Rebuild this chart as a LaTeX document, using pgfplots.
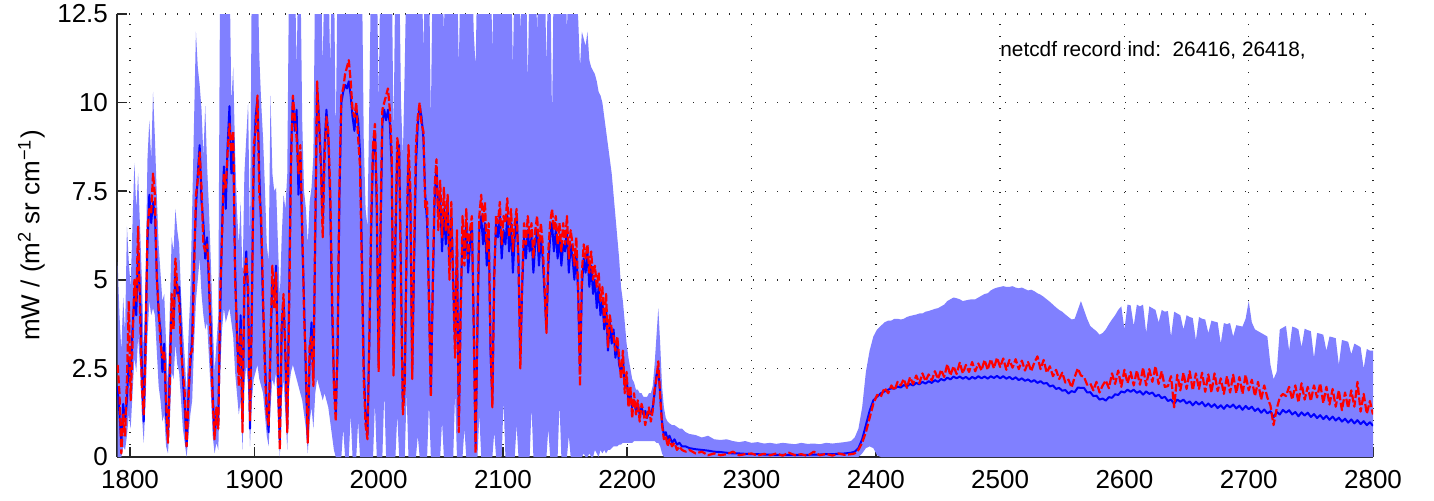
\documentclass[border=0pt]{standalone}
\usepackage{fontspec}
\setmainfont{Liberation Sans}
\usepackage{pgfplots}
\usepackage{pgfplotstable}
\pgfplotsset{compat=1.18}
\usepgfplotslibrary{fillbetween}
\definecolor{envfill}{RGB}{128,128,255}
\definecolor{lineblue}{RGB}{0,0,255}
\definecolor{linered}{RGB}{255,0,0}

\pgfplotstableread{
x b r lo hi
1790 2.0 2.6 0 5.5
1791.5 1.2 1.8 0 4.0
1793 0.4 0.1 0 3.0
1794.5 1.5 1.2 0.3 4.5
1796 1.0 0.6 0.2 3.5
1797.5 1.6 2.2 0.6 6.5
1799 2.8 4.4 1.2 5.5
1800.5 2.2 1.6 0.8 4.8
1802 3.6 3.2 1.8 6.6
1803.5 4.6 5.0 2.8 8.3
1805 4.0 4.4 2.4 7.0
1806.5 5.8 6.5 3.4 8.0
1808 4.6 4.2 2.6 6.5
1809.5 2.6 2.0 1.2 5.0
1811 1.0 1.2 0.4 3.0
1812.5 3.5 3.0 1.6 5.0
1814 6.0 6.4 3.4 8.4
1815.5 7.4 7.0 4.4 9.5
1817 6.6 6.9 4.0 8.4
1818.5 7.2 8.0 4.2 10.3
1820 6.8 7.4 4.0 9.0
1821.5 5.2 5.0 3.0 7.4
1823 4.0 4.2 2.0 6.0
1824.5 3.6 3.2 1.6 5.2
1826 2.4 2.8 1.0 4.4
1827.5 3.2 3.0 1.2 4.6
1829 1.2 1.6 0.3 3.2
1830.5 0.5 0.4 0.1 2.0
1832 2.6 2.2 1.0 4.2
1833.5 4.2 4.6 2.4 6.2
1835 3.8 3.6 2.2 5.8
1836.5 5.2 5.6 3.2 7.0
1838 4.6 4.8 2.6 6.4
1839.5 4.8 4.4 2.4 6.0
1841 3.4 3.0 1.6 4.6
1842.5 2.2 2.4 0.8 3.6
1844 1.4 1.8 0.4 2.8
1845.5 0.3 0.3 0.0 1.8
1847 1.8 1.6 0.6 3.4
1848.5 2.6 2.9 1.2 4.6
1850 3.4 3.0 1.6 7.0
1851.5 5.6 5.2 3.2 9.5
1853 7.0 7.4 4.4 12.0
1854.5 8.0 7.8 5.0 11.0
1856 8.8 8.6 5.6 10.5
1857.5 7.2 7.6 4.6 9.8
1859 6.6 6.0 4.0 8.5
1860.5 5.6 5.8 3.6 9.9
1862 6.2 6.0 3.8 8.2
1863.5 4.8 5.2 2.8 7.0
1865 3.6 3.0 1.8 5.5
1866.5 1.8 1.6 0.6 3.8
1868 0.6 0.5 0.1 2.4
1869.5 1.2 1.4 0.4 3.2
1871 0.9 0.8 0.2 4.0
1872.5 4.0 4.6 2.4 14
1874 6.4 6.2 3.6 14
1875.5 8.2 8.0 4.2 14
1877 7.0 7.6 3.8 14
1878.5 8.8 8.6 4.0 14
1880 9.9 9.4 4.2 14
1881.5 8.0 8.6 3.8 10.0
1883 9.0 9.2 3.4 11.0
1884.5 5.4 5.0 2.4 8.6
1886 3.4 3.6 1.8 7.0
1887.5 2.4 2.0 1.2 6.0
1889 4.0 3.6 1.6 7.2
1890.5 1.0 0.7 0.2 5.0
1892 4.8 5.2 2.0 8.0
1893.5 5.8 5.6 2.6 9.0
1895 4.4 4.8 2.0 10.0
1896.5 0.8 1.0 0.3 6.0
1898 4.4 4.0 1.6 14
1899.5 8.2 8.8 2.2 14
1901 9.6 9.2 2.4 14
1902.5 10.1 10.2 2.6 14
1904 8.0 7.4 2.2 11.3
1905.5 6.4 6.8 2.0 10.0
1907 4.2 4.6 1.8 9.0
1908.5 2.8 2.4 1.2 7.6
1910 1.4 1.2 0.6 6.0
1911.5 0.7 0.9 0.3 5.5
1913 3.0 3.4 1.4 10.2
1914.5 5.0 5.4 2.2 8.0
1916 4.6 4.2 2.0 7.5
1917.5 5.4 5.2 2.4 7.6
1919 2.6 2.2 1.0 6.0
1920.5 0.4 0.2 0.0 4.5
1922 3.6 3.8 1.6 6.2
1923.5 4.4 4.6 2.2 7.4
1925 2.8 3.0 1.2 7.0
1926.5 0.8 0.7 0.2 8.0
1928 4.6 4.2 2.0 14
1929.5 8.6 8.2 2.4 14
1931 10.1 10.2 2.6 14
1932.5 9.2 9.6 2.4 14
1934 9.8 9.0 2.2 11.0
1935.5 7.4 8.0 2.0 14
1937 8.6 8.8 1.8 14
1938.5 6.2 6.6 1.6 9.5
1940 4.4 4.0 1.2 7.5
1941.5 2.2 2.6 0.8 7.0
1943 0.5 0.4 0.1 6.0
1944.5 2.8 3.2 1.0 7.2
1946 3.8 3.4 1.4 7.6
1947.5 2.2 2.0 0.8 8.5
1949 6.2 6.6 1.8 14
1950.5 10.4 10.6 2.2 14
1952 9.6 9.4 2.0 14
1953.5 8.4 8.2 1.8 14
1955 6.6 6.2 1.6 11.0
1956.5 8.8 8.4 1.8 14
1958 9.8 9.6 1.6 14
1959.5 9.0 9.2 1.4 14
1961 7.2 7.6 1.0 11.0
1962.5 4.2 4.8 0.6 14
1964 2.2 2.0 0.2 14
1965.5 1.2 1.0 0.0 9.0
1967 3.0 3.4 0.0 14
1968.5 7.4 7.8 0.0 14
1970 10.0 10.2 0.0 14
1971.5 10.3 10.4 0.8 14
1973 10.5 10.8 0.0 14
1974.5 10.4 11.0 0.0 14
1976 10.6 11.2 0.0 14
1977.5 10.2 10.6 1.2 14
1979 9.6 9.8 0.0 14
1980.5 9.2 9.6 0.0 14
1982 9.8 10.0 0.0 14
1983.5 9.5 9.0 1.0 14
1985 8.6 8.2 0.0 14
1986.5 5.8 5.2 0.0 14
1988 2.6 2.2 0.0 9.0
1989.5 1.2 0.9 0.0 7.0
1991 0.6 0.5 0.0 6.5
1992.5 3.2 3.4 0.0 10.0
1994 6.4 6.8 0.0 14
1995.5 8.6 8.8 0.0 14
1997 9.2 9.4 1.5 14
1998.5 7.0 7.4 0.0 14
2000 2.6 2.4 0.0 10.0
2001.5 6.2 6.6 0.0 14
2003 9.4 9.8 0.0 14
2004.5 9.8 10.0 1.8 14
2006 9.5 10.2 0.0 14
2007.5 9.8 10.4 0.0 14
2009 9.4 9.8 0.0 14
2010.5 8.2 8.6 0.0 14
2012 2.6 2.3 0.0 9.0
2013.5 6.0 6.4 0.0 14
2015 8.6 9.0 1.2 14
2016.5 8.8 8.6 0.0 14
2018 5.2 4.8 0.0 10.0
2019.5 1.4 1.2 0.0 8.5
2021 2.2 2.0 0.0 11.0
2022.5 5.8 6.2 1.8 14
2024 8.4 8.8 0.0 14
2025.5 7.2 7.6 0.0 14
2027 2.4 2.2 0.0 14
2028.5 5.4 5.8 0.0 14
2030 8.2 8.8 0.0 14
2031.5 9.4 9.6 0.6 14
2033 9.9 10.0 0.0 14
2034.5 9.6 9.4 0.0 14
2036 9.0 9.2 0.0 11.5
2037.5 7.4 7.0 0.0 14
2039 6.6 7.2 0.0 14
2040.5 4.6 4.2 1.5 14
2042 1.8 1.7 0.0 9.5
2043.5 4.6 4.8 0.0 14
2045 7.2 7.6 0.0 14
2046.5 8.2 8.4 0.0 14
2048 6.8 6.4 0.0 14
2049.5 7.4 7.8 0.0 14
2051 5.8 6.2 1.0 14
2052.5 7.0 7.6 0.0 12.0
2054 6.0 6.4 0.0 14
2055.5 7.2 7.4 0.0 14
2057 5.4 5.0 0.0 14
2058.5 6.8 7.2 0.0 14
2060 5.0 4.8 0.0 14
2061.5 3.2 2.8 1.8 14
2063 6.0 6.4 0.0 14
2064.5 0.9 0.7 0.0 11.0
2066 4.4 4.0 0.0 14
2067.5 6.2 6.8 0.0 14
2069 5.6 5.4 0.8 14
2070.5 6.6 7.0 0.0 14
2072 5.2 5.6 0.0 14
2073.5 6.0 6.4 0.0 14
2075 6.6 6.8 0.0 14
2076.5 3.8 3.6 0.0 12.0
2078 0.3 0.1 0.0 11.0
2079.5 3.6 4.0 0.0 14
2081 6.4 6.8 1.2 14
2082.5 6.8 7.4 0.0 14
2084 6.0 6.6 0.0 14
2085.5 6.6 7.2 0.0 14
2087 5.4 5.8 0.0 14
2088.5 6.4 6.6 0.0 14
2090 3.0 3.2 0.0 14
2091.5 1.6 1.4 0.0 11.5
2093 5.2 5.0 0.7 14
2094.5 6.6 6.8 0.0 14
2096 6.2 6.6 0.0 14
2097.5 6.8 7.2 0.0 14
2099 5.6 6.0 0.0 14
2100.5 6.4 6.8 1.6 14
2102 6.0 6.6 0.0 14
2103.5 6.8 7.3 0.0 14
2105 5.8 6.2 0.0 14
2106.5 6.6 7.0 0.0 14
2108 5.2 5.8 0.0 11.0
2109.5 6.2 6.6 0.0 14
2111 6.8 7.0 0.9 14
2112.5 5.6 5.4 0.0 14
2114 2.8 2.5 0.0 12.0
2115.5 4.8 5.0 0.0 14
2117 6.2 6.6 0.0 14
2118.5 5.6 6.0 0.0 14
2120 6.4 6.8 0.0 10.5
2121.5 5.8 6.2 0.0 14
2123 6.2 6.6 1.4 14
2124.5 5.2 5.6 0.0 14
2126 6.0 6.4 0.0 14
2127.5 6.4 6.8 0.0 12.0
2129 5.4 5.8 0.0 14
2130.5 6.2 6.6 0.0 14
2132 5.6 6.0 0.0 14
2133.5 4.6 4.8 0.0 14
2135 3.6 3.5 0.0 11.0
2136.5 5.4 5.8 0.8 14
2138 6.2 6.6 0.0 14
2139.5 6.6 7.0 0.0 9.5
2141 5.8 6.4 0.0 14
2142.5 6.4 6.8 0.0 14
2144 5.6 6.0 0.0 14
2145.5 6.2 6.6 1.5 14
2147 5.4 5.8 0.0 14
2148.5 6.0 6.6 0.0 14
2150 5.8 6.0 0.0 14
2151.5 6.4 6.8 0.0 12.0
2153 5.2 5.6 0.6 14
2154.5 6.0 6.4 0.0 14
2156 5.6 6.0 0.0 14
2157.5 5.0 5.4 0.0 14
2159 5.8 6.2 0.0 13.0
2160.5 4.6 4.8 0.0 12.4
2162 2.4 2.0 0.0 11.0
2163.5 4.8 5.2 0.0 12.0
2165 5.6 6.0 0.1 11.8
2166.5 5.2 5.6 0.0 11.6
2168 5.8 6.0 0.0 12.0
2169.5 4.8 5.2 0.1 11.2
2171 5.4 5.8 0.0 11.0
2172.5 4.6 5.0 0.0 10.9
2174 5.0 5.4 0.2 10.8
2175.5 4.2 4.8 0.1 10.6
2177 4.8 5.2 0.0 10.3
2178.5 4.0 4.4 0.2 10.2
2180 4.4 4.8 0.1 10.0
2181.5 3.6 3.8 0.2 9.6
2183 4.2 4.6 0.1 9.2
2184.5 3.0 3.1 0.2 8.8
2186 3.8 4.0 0.2 8.4
2187.5 3.2 3.6 0.25 8.0
2189 3.6 3.4 0.3 7.4
2190.5 2.8 3.0 0.3 6.8
2192 3.2 3.4 0.3 6.2
2193.5 2.6 2.8 0.35 5.6
2195 2.4 2.2 0.35 4.8
2196.5 2.8 3.0 0.4 4.4
2198 2.0 1.8 0.4 3.8
2199.5 2.2 2.4 0.4 3.2
2201 1.6 1.4 0.4 2.8
2202.5 1.8 2.0 0.4 2.5
2204 1.4 1.1 0.4 2.2
2205.5 1.6 1.8 0.45 2.1
2207 1.3 1.2 0.45 1.9
2208.5 1.5 1.6 0.45 1.9
2210 1.2 1.0 0.45 1.8
2211.5 1.4 1.5 0.45 1.8
2213 1.2 1.3 0.45 1.7
2214.5 1.3 0.9 0.45 1.7
2216 1.1 1.2 0.45 1.7
2217.5 1.3 1.4 0.45 1.8
2219 1.2 1.0 0.45 1.8
2220.5 1.4 1.3 0.45 2.0
2222 1.8 1.9 0.45 2.6
2223.5 2.3 2.2 0.4 3.4
2225 2.5 2.7 0.4 4.2
2226.5 1.8 1.7 0.3 3.2
2228 1.0 0.9 0.1 2.0
2229.5 0.6 0.5 0.0 1.4
2231 0.7 0.6 0 1.1
2232.5 0.5 0.3 0 1.0
2234 0.6 0.5 0 0.95
2236 0.4 0.3 0 0.9
2238 0.5 0.4 0 0.9
2240 0.35 0.2 0 0.85
2242 0.4 0.3 0 0.8
2244 0.3 0.2 0 0.8
2247 0.3 0.15 0 0.7
2250 0.25 0.2 0 0.65
2255 0.22 0.1 0 0.62
2260 0.2 0.15 0 0.55
2265 0.18 0.05 0 0.6
2270 0.15 0.1 0 0.5
2275 0.14 0.05 0 0.48
2280 0.12 0.08 0 0.5
2285 0.1 0.15 0 0.45
2290 0.1 0.05 0 0.42
2295 0.09 0.08 0 0.45
2300 0.08 0.1 0 0.4
2305 0.08 0.04 0 0.42
2310 0.07 0.09 0 0.38
2315 0.07 0.05 0 0.4
2320 0.06 0.1 0 0.37
2325 0.06 0.04 0 0.4
2330 0.06 0.12 0 0.38
2335 0.06 0.05 0 0.36
2340 0.06 0.08 0 0.4
2345 0.06 0.03 0 0.37
2350 0.07 0.15 0 0.38
2355 0.07 0.05 0 0.36
2360 0.08 0.09 0 0.4
2365 0.08 0.04 0 0.38
2370 0.09 0.1 0 0.4
2375 0.1 0.06 0 0.42
2380 0.12 0.08 0 0.45
2383 0.15 0.1 0 0.55
2386 0.25 0.2 0 0.8
2389 0.5 0.4 0.1 1.4
2392 0.9 0.7 0.25 2.4
2395 1.3 1.1 0.3 3.0
2398 1.6 1.5 0.25 3.4
2401 1.7 1.75 0.05 3.6
2404 1.8 1.7 0 3.7
2407 1.85 1.95 0 3.8
2410 1.9 1.8 0 3.85
2412.5 1.94 2.02 0 3.85
2415 1.93 1.88 0 3.9
2417.5 1.99 2.12 0 3.9
2420 1.96 2.02 0 3.88
2422.5 2.03 2.2 0 3.9
2425 1.99 1.95 0 3.95
2427.5 2.06 2.25 0 3.98
2430 2.02 2.06 0 4.0
2432.5 2.09 2.3 0 4.02
2435 2.05 2.08 0 4.05
2437.5 2.12 2.36 0 4.05
2440 2.07 2.14 0 4.1
2442.5 2.14 2.33 0 4.12
2445 2.09 2.16 0 4.15
2447.5 2.17 2.42 0 4.18
2450 2.12 2.2 0 4.2
2452.5 2.2 2.46 0 4.25
2455 2.16 2.26 0 4.3
2457.5 2.24 2.62 0 4.4
2460 2.19 2.3 0 4.45
2462.5 2.27 2.56 0 4.5
2465 2.22 2.34 0 4.48
2467.5 2.27 2.66 0 4.45
2470 2.21 2.36 0 4.4
2472.5 2.26 2.6 0 4.42
2475 2.19 2.4 0 4.44
2477.5 2.26 2.68 0 4.45
2480 2.21 2.42 0 4.45
2482.5 2.28 2.64 0 4.5
2485 2.22 2.44 0 4.55
2487.5 2.27 2.74 0 4.6
2490 2.21 2.46 0 4.62
2492.5 2.28 2.76 0 4.7
2495 2.23 2.5 0 4.75
2497.5 2.29 2.8 0 4.78
2500 2.22 2.54 0 4.8
2502.5 2.28 2.78 0 4.82
2505 2.21 2.46 0 4.8
2507.5 2.26 2.74 0 4.8
2510 2.19 2.52 0 4.82
2512.5 2.25 2.76 0 4.78
2515 2.17 2.48 0 4.76
2517.5 2.22 2.72 0 4.78
2520 2.15 2.44 0 4.74
2522.5 2.19 2.68 0 4.7
2525 2.12 2.42 0 4.72
2527.5 2.17 2.66 0 4.68
2530 2.09 2.84 0 4.62
2532.5 2.14 2.48 0 4.58
2535 2.07 2.74 0 4.52
2537.5 2.09 2.38 0 4.45
2540 1.99 2.56 0 4.38
2542.5 2.02 2.28 0 4.3
2545 1.92 2.46 0 4.22
2547.5 1.95 2.2 0 4.15
2550 1.87 2.38 0 4.1
2552.5 1.89 2.1 0 4.02
2555 1.79 2.18 0 3.95
2557.5 1.86 1.96 0 3.88
2560 1.83 2.26 0 3.9
2562.5 1.96 2.5 0 4.15
2565 1.95 2.3 0 4.4
2567.5 1.95 2.26 0 4.15
2570 1.82 2.04 0 3.9
2572.5 1.83 2.08 0 3.7
2575 1.72 1.88 0 3.62
2577.5 1.73 2.12 0 3.55
2580 1.62 1.82 0 3.45
2582.5 1.65 2.02 0 3.5
2585 1.59 2.16 0 3.6
2587.5 1.69 1.94 0 3.75
2590 1.67 2.36 0 3.88
2592.5 1.77 2.06 0 4.0
2595 1.75 2.44 0 4.15
2597.5 1.85 1.98 0 4.25
2600 1.82 2.46 0 3.6
2602.5 1.9 2.08 0 4.3
2605 1.84 2.4 0 4.28
2607.5 1.9 2.02 0 3.7
2610 1.81 2.44 0 4.3
2612.5 1.86 2.04 0 4.25
2615 1.76 2.52 0 4.3
2617.5 1.85 2.02 0 3.5
2620 1.78 2.48 0 4.25
2622.5 1.82 2.12 0 4.2
2625 1.71 2.56 0 4.15
2627.5 1.76 2.06 0 3.8
2630 1.66 2.42 0 4.15
2632.5 1.7 1.98 0 4.1
2635 1.58 2.0 0 4.12
2637.5 1.62 2.28 0 3.4
2640 1.5 1.4 0 4.1
2642.5 1.62 2.32 0 4.05
2645 1.56 1.88 0 4.0
2647.5 1.62 2.38 0 3.6
2650 1.51 1.92 0 4.0
2652.5 1.57 2.42 0 3.95
2655 1.46 1.88 0 3.92
2657.5 1.56 2.36 0 3.3
2660 1.48 1.92 0 3.95
2662.5 1.55 2.38 0 3.9
2665 1.43 1.84 0 3.88
2667.5 1.51 2.33 0 3.5
2670 1.41 1.82 0 3.85
2672.5 1.49 2.36 0 3.82
2675 1.38 1.86 0 3.8
2677.5 1.46 2.22 0 3.2
2680 1.36 1.78 0 3.78
2682.5 1.47 2.28 0 3.75
2685 1.4 1.82 0 3.78
2687.5 1.48 2.32 0 3.4
2690 1.37 1.8 0 3.72
2692.5 1.45 2.26 0 3.7
2695 1.33 1.78 0 3.68
2697.5 1.44 2.32 0 3.9
2700 1.35 1.88 0 4.4
2702.5 1.42 2.18 0 3.8
2705 1.3 1.72 0 3.6
2707.5 1.37 2.12 0 3.55
2710 1.25 1.62 0 3.5
2712.5 1.34 2.02 0 3.45
2715 1.23 1.68 0 3.4
2717.5 1.29 1.45 0 2.6
2720 1.12 0.9 0 2.2
2722.5 1.27 1.36 0 2.4
2725 1.2 1.68 0 3.6
2727.5 1.33 1.78 0 3.65
2730 1.25 1.72 0 3.7
2732.5 1.32 1.98 0 3.0
2735 1.2 1.62 0 3.68
2737.5 1.27 2.02 0 3.65
2740 1.15 1.54 0 3.6
2742.5 1.26 2.08 0 3.1
2745 1.17 1.62 0 3.62
2747.5 1.25 1.98 0 3.58
2750 1.13 1.58 0 3.55
2752.5 1.21 2.02 0 2.8
2755 1.1 1.68 0 3.5
2757.5 1.18 2.08 0 3.48
2760 1.07 1.52 0 3.45
2762.5 1.16 1.98 0 3.0
2765 1.05 1.48 0 3.4
2767.5 1.14 1.92 0 3.38
2770 1.03 1.42 0 3.35
2772.5 1.11 1.88 0 2.6
2775 1.0 1.32 0 3.3
2777.5 1.08 1.82 0 3.28
2780 0.97 1.38 0 3.25
2782.5 1.06 1.88 0 2.9
2785 0.95 1.42 0 3.2
2787.5 1.04 2.12 0 3.15
2790 0.93 1.28 0 3.1
2792.5 1.01 1.78 0 2.5
2795 0.9 1.22 0 3.05
2797.5 0.98 1.58 0 3.0
2800 0.88 1.2 0 3.0
}\spec

\begin{document}
\begin{tikzpicture}
\begin{axis}[
  scale only axis, width=628pt, height=221.5pt,
  at={(0,0)}, anchor=south west,
  xmin=1789.5, xmax=2800, ymin=0, ymax=12.5,
  axis x line*=bottom, axis y line*=left,
  axis line style={-, black!85, line width=0.8pt},
  xtick={1800,1900,...,2800},
  ytick={0,2.5,5,7.5,10,12.5},
  yticklabels={0,2.5,5,7.5,10,12.5},
  tick align=inside, major tick length=5pt,
  tick style={black!85, line width=0.8pt},
  grid=major,
  major grid style={black!85, line width=0.7pt, dash pattern=on 0.7pt off 5.3pt},
  /pgf/number format/assume math mode=true,
  /pgf/number format/set thousands separator={},
  tick label style={font=\fontsize{13}{15}\selectfont, black},
  xticklabel style={yshift=-3pt},
  yticklabel style={xshift=-1pt},
  ylabel={mW / (m\textsuperscript{2} sr cm\textsuperscript{−1})},
  every axis y label/.style={at={(axis description cs:-0.0573,0.5)}, rotate=90, anchor=south, inner sep=0pt, font=\fontsize{13}{15}\selectfont},
]
\addplot[draw=none, name path=hi, forget plot] table[x=x, y=hi] {\spec};
\addplot[draw=none, name path=lo, forget plot] table[x=x, y=lo] {\spec};
\addplot[fill=envfill, draw=none] fill between[of=hi and lo];
\addplot[lineblue, line width=1.0pt, line join=round] table[x=x, y=b] {\spec};
\addplot[linered, line width=1.1pt, line join=round, dash pattern=on 4pt off 1.3pt] table[x=x, y=r] {\spec};
\node[anchor=base west, inner sep=0pt, font=\fontsize{10.4}{12}\selectfont] at (axis description cs:0.703,0.903) {netcdf record ind:\ \ 26416, 26418,};
\end{axis}
\pgfresetboundingbox
\path[use as bounding box] (-58.5pt,-21.5pt) rectangle (658.5pt,228.5pt);
\end{tikzpicture}
\end{document}
